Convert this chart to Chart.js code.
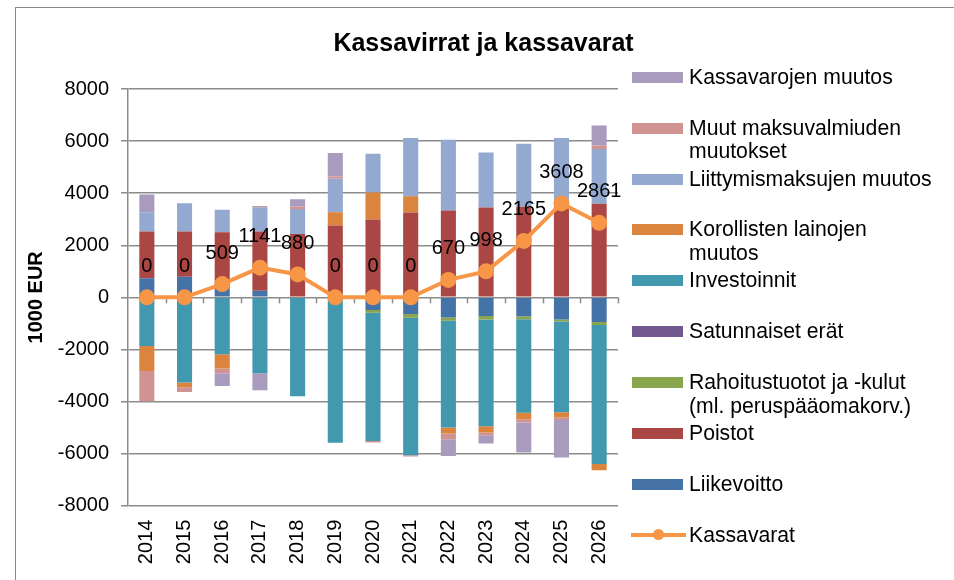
<!DOCTYPE html>
<html><head><meta charset="utf-8">
<script src="https://cdn.jsdelivr.net/npm/chart.js@4"></script>
<style>
html,body{margin:0;padding:0;background:#fff;width:954px;height:580px;overflow:hidden;font-family:'Liberation Sans',Arial,sans-serif;}
#frame{position:absolute;left:15px;top:7px;width:1000px;height:700px;border:1px solid #8a8a8a;box-sizing:border-box;}
#title{position:absolute;left:283.5px;width:400px;text-align:center;top:27px;font-weight:bold;font-size:25px;line-height:30px;color:#000;white-space:nowrap;}
canvas{position:absolute;left:0;top:0;}
.sw{position:absolute;left:632px;width:51px;height:11px;}
.lt{position:absolute;left:689px;font-size:21.2px;line-height:23.5px;color:#000;white-space:pre;}
.ln{position:absolute;left:631px;width:55px;height:4px;}
.dot{position:absolute;width:11px;height:11px;border-radius:50%;}
</style></head>
<body>
<div id="frame"></div>
<canvas id="c" width="954" height="580"></canvas>
<div id="title">Kassavirrat ja kassavarat</div>
<div id="legend"></div>
<script>
const years = ['2014','2015','2016','2017','2018','2019','2020','2021','2022','2023','2024','2025','2026'];

const liikevoitto      = [730, 795, 350, 256, 0, 0, -490, -641, -770, -718, -730, -846, -949];
const poistot          = [1795, 1730, 2150, 2270, 2435, 2756, 2987, 3256, 3333, 3449, 3474, 3550, 3590];
const rahoitus         = [0, 0, 0, 0, 0, 0, -100, -141, -128, -128, -115, -77, -115];
const satunnaiset      = [0, 0, 0, 0, 0, 0, 0, 0, 0, 0, 0, 0, 0];
const investoinnit     = [-1870, -3270, -2180, -2910, -3800, -5580, -4923, -5282, -4102, -4102, -3590, -3487, -5333];
const korolliset       = [-960, -180, -550, 0, 0, 513, 1038, 628, -230, -244, -244, -192, -244];
const liittymis        = [745, 1090, 860, 935, 960, 1282, 1487, 2230, 2718, 2115, 2423, 2565, 2102];
const muut             = [-1155, -180, -180, 50, 90, 90, -65, -50, -218, -103, -128, -103, 141];
const kassavarojenMuutos = [680, 0, -490, -655, 280, 897, 0, 0, -641, -320, -1154, -1449, 770];
const kassavarat       = [0, 0, 509, 1141, 880, 0, 0, 0, 670, 998, 2165, 3608, 2861];

const yTicks = [-8000, -6000, -4000, -2000, 0, 2000, 4000, 6000, 8000];

const barSeries = [
  {name:'Liikevoitto', legend:'Liikevoitto', data:liikevoitto, color:'#4572A7'},
  {name:'Poistot', legend:'Poistot', data:poistot, color:'#AA4643'},
  {name:'Rahoitustuotot ja -kulut (ml. peruspääomakorv.)', legend:'Rahoitustuotot ja -kulut\n(ml. peruspääomakorv.)', data:rahoitus, color:'#89A54E'},
  {name:'Satunnaiset erät', legend:'Satunnaiset erät', data:satunnaiset, color:'#71588F'},
  {name:'Investoinnit', legend:'Investoinnit', data:investoinnit, color:'#4198AF'},
  {name:'Korollisten lainojen muutos', legend:'Korollisten lainojen\nmuutos', data:korolliset, color:'#DB843D'},
  {name:'Liittymismaksujen muutos', legend:'Liittymismaksujen muutos', data:liittymis, color:'#93A9CF'},
  {name:'Muut maksuvalmiuden muutokset', legend:'Muut maksuvalmiuden\nmuutokset', data:muut, color:'#D19392'},
  {name:'Kassavarojen muutos', legend:'Kassavarojen muutos', data:kassavarojenMuutos, color:'#A99BBD'}
];
const lineSeries = {name:'Kassavarat', legend:'Kassavarat', data:kassavarat, color:'#F79646'};

const gridColor = '#8c8c8c';
Chart.defaults.font.family = "'Liberation Sans', Arial, sans-serif";
Chart.defaults.font.size = 20;
Chart.defaults.color = '#000';

const datasets = barSeries.map(s => ({
  type:'bar', label:s.name, data:s.data, backgroundColor:s.color,
  borderWidth:0, stack:'bars', order:1,
  barPercentage:0.4, categoryPercentage:1.0
}));
datasets.push({
  type:'line', label:lineSeries.name, data:lineSeries.data, stack:'line', order:0,
  borderColor:lineSeries.color, backgroundColor:lineSeries.color, borderWidth:4,
  pointRadius:8, pointBackgroundColor:lineSeries.color, pointBorderColor:lineSeries.color,
  pointBorderWidth:0, tension:0, fill:false
});

const zeroTicks = {
  id:'zeroTicks',
  beforeDatasetsDraw(chart){
    const xs = chart.scales.x, ys = chart.scales.y, ctx = chart.ctx;
    const y0 = ys.getPixelForValue(0);
    ctx.save();
    ctx.strokeStyle = gridColor; ctx.lineWidth = 1.5;
    for (let i = 1; i <= years.length; i++) {
      const px = i === years.length ? xs.right : (xs.getPixelForValue(i-1) + xs.getPixelForValue(i)) / 2;
      ctx.beginPath(); ctx.moveTo(Math.round(px)+0.5, y0); ctx.lineTo(Math.round(px)+0.5, y0 + 6); ctx.stroke();
    }
    ctx.restore();
  }
};
const dataLabels = {
  id:'dataLabels',
  afterDatasetsDraw(chart){
    const idx = chart.data.datasets.length - 1;
    const meta = chart.getDatasetMeta(idx);
    const ctx = chart.ctx;
    ctx.save();
    ctx.font = "20px 'Liberation Sans', Arial, sans-serif";
    ctx.fillStyle = '#000'; ctx.textAlign = 'center'; ctx.textBaseline = 'middle';
    meta.data.forEach((pt, i) => {
      ctx.fillText(String(chart.data.datasets[idx].data[i]), pt.x, pt.y - 31);
    });
    ctx.restore();
  }
};

new Chart(document.getElementById('c'), {
  type:'bar',
  data:{labels:years, datasets:datasets},
  options:{
    responsive:false, animation:false, devicePixelRatio:1,
    layout:{padding:{left:0, top:89, right:336, bottom:0}},
    plugins:{legend:{display:false}, title:{display:false}, tooltip:{enabled:false}},
    scales:{
      x:{
        stacked:true,
        grid:{display:false, drawTicks:false},
        border:{display:false},
        ticks:{minRotation:90, maxRotation:90, padding:14, autoSkip:false, font:{size:20}},
        afterFit(s){ s.height = 580 - 505.7; }
      },
      y:{
        stacked:true, min:-8000, max:8000,
        afterBuildTicks(s){ s.ticks = yTicks.map(v => ({value:v})); },
        ticks:{padding:12, font:{size:20}, callback:v => String(v)},
        grid:{color:gridColor, lineWidth:1.5, tickLength:7, tickColor:gridColor},
        border:{display:true, color:gridColor, width:1.5},
        title:{display:true, text:'1000 EUR', font:{size:20, weight:'bold'}, padding:{top:24, bottom:0}},
        afterFit(s){ s.width = 128; }
      }
    }
  },
  plugins:[zeroTicks, dataLabels]
});

// legend (reverse stacking order, line last)
const legendItems = barSeries.slice().reverse().concat([lineSeries]);
const lg = document.getElementById('legend');
legendItems.forEach((s, i) => {
  const cy = 77.3 + i * 50.85;
  if (s === lineSeries) {
    const l = document.createElement('div'); l.className = 'ln';
    l.style.top = (cy - 2) + 'px'; l.style.background = s.color; lg.appendChild(l);
    const d = document.createElement('div'); d.className = 'dot';
    d.style.left = (658.5 - 5.5) + 'px'; d.style.top = (cy - 5.5) + 'px'; d.style.background = s.color; lg.appendChild(d);
  } else {
    const sw = document.createElement('div'); sw.className = 'sw';
    sw.style.top = (cy - 5.5) + 'px'; sw.style.background = s.color; lg.appendChild(sw);
  }
  const t = document.createElement('div'); t.className = 'lt';
  t.style.top = (cy - 12.4) + 'px'; t.textContent = s.legend; lg.appendChild(t);
});
</script>
</body></html>
